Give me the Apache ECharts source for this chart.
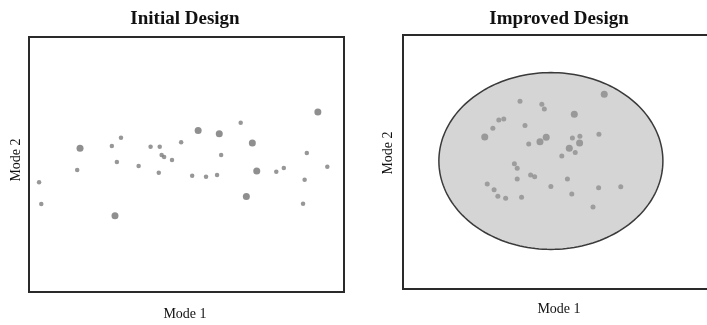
<!DOCTYPE html>
<html>
<head>
<meta charset="utf-8">
<script src="https://cdn.jsdelivr.net/npm/echarts@6/dist/echarts.min.js"></script>
<style>html,body{margin:0;padding:0;background:#fff}#c{width:707px;height:325px}</style>
</head>
<body>
<div id="c"></div>
<script>
// Panel titles and axis names
const panelTitles = ['Initial Design', 'Improved Design'];
const xAxisName = 'Mode 1';
const yAxisName = 'Mode 2';

// Initial design: [Mode 1, Mode 2]
const initialSmall = [
  [3.2,43.0],[3.9,34.5],[15.3,47.8],[26.3,57.3],[29.2,60.5],[27.9,51.0],[34.8,49.4],
  [38.6,57.0],[41.5,57.0],[42.1,53.7],[42.9,52.9],[41.2,46.8],[45.4,51.8],[48.3,58.7],
  [51.8,45.6],[56.2,45.2],[59.7,45.9],[61.0,53.7],[67.2,66.4],[78.5,47.2],[80.9,48.6],
  [87.5,44.0],[88.2,54.5],[87.0,34.6],[94.7,49.1]
];
const initialLarge = [
  [16.2,56.4],[27.3,29.9],[53.7,63.3],[60.4,62.1],[70.9,58.4],[72.3,47.5],[69.0,37.5],[91.7,70.6]
];

// Improved design: [Mode 1, Mode 2]
const improvedSmall = [
  [37.5,73.9],[44.5,72.7],[45.3,70.9],[30.7,66.5],[32.3,66.9],[28.8,63.3],[39.1,64.4],
  [40.3,57.1],[54.3,59.4],[56.7,60.1],[62.8,60.9],[55.2,53.7],[50.9,52.4],[35.7,49.3],
  [36.6,47.5],[40.9,44.9],[42.2,44.2],[36.6,43.3],[52.7,43.3],[27.0,41.3],[29.2,39.1],
  [30.4,36.5],[32.9,35.7],[38.0,36.1],[47.4,40.4],[54.1,37.4],[62.7,39.9],[69.8,40.3],
  [60.9,32.3]
];
const improvedLarge = [
  [64.5,76.7],[54.9,68.8],[26.2,59.8],[43.9,58.0],[45.9,59.7],[53.3,55.4],[56.6,57.5]
];
// Design region ellipse: [centre Mode 1, centre Mode 2, radius Mode 1, radius Mode 2]
const designRegion = [[47.4, 50.4, 35.9, 34.8]];

const chart = echarts.init(document.getElementById('c'), null, {renderer: 'canvas'});
const serif = '"Liberation Serif", "Times New Roman", serif';

function hiddenAxis(gi) {
  return {type: 'value', gridIndex: gi, min: 0, max: 100,
    axisLine: {show: false}, axisTick: {show: false}, axisLabel: {show: false}, splitLine: {show: false}};
}
function label(text, x, y, font, rot) {
  return {type: 'text', x: x, y: y, rotation: rot || 0,
    style: {text: text, font: font, fill: '#111', textAlign: 'center', textVerticalAlign: 'middle', align: 'center', verticalAlign: 'middle'}};
}

chart.setOption({
  animation: false,
  grid: [
    {left: 29, top: 37, width: 315, height: 255, show: true, borderColor: '#2a2a2a', borderWidth: 2, backgroundColor: 'transparent', outerBoundsMode: 'none', containLabel: false},
    {left: 403, top: 35, width: 312, height: 254, show: true, borderColor: '#2a2a2a', borderWidth: 2, backgroundColor: 'transparent', outerBoundsMode: 'none', containLabel: false}
  ],
  xAxis: [hiddenAxis(0), hiddenAxis(1)],
  yAxis: [hiddenAxis(0), hiddenAxis(1)],
  graphic: [
    label(panelTitles[0], 185, 19, 'bold 19px ' + serif),
    label(panelTitles[1], 559, 19, 'bold 19px ' + serif),
    label(xAxisName, 185, 314, '14px ' + serif),
    label(xAxisName, 559, 309, '14px ' + serif),
    label(yAxisName, 16, 160, '14px ' + serif, Math.PI / 2),
    label(yAxisName, 388, 153, '14px ' + serif, Math.PI / 2)
  ],
  series: [
    {
      type: 'custom', xAxisIndex: 1, yAxisIndex: 1, data: designRegion, z: 1, silent: true, clip: false,
      renderItem: function (params, api) {
        const c = api.coord([api.value(0), api.value(1)]);
        const s = api.size([api.value(2), api.value(3)]);
        const pts = [];
        for (let i = 0; i < 180; i++) {
          const t = i / 180 * Math.PI * 2;
          pts.push([c[0] + s[0] * Math.cos(t), c[1] + s[1] * Math.sin(t)]);
        }
        return {type: 'polygon', shape: {points: pts},
          style: {fill: '#d5d5d5', stroke: '#3a3a3a', lineWidth: 1.5}};
      }
    },
    {type: 'scatter', xAxisIndex: 0, yAxisIndex: 0, data: initialSmall, symbol: 'circle', symbolSize: 4.5, itemStyle: {color: '#7d7d7d'}, z: 3, silent: true},
    {type: 'scatter', xAxisIndex: 0, yAxisIndex: 0, data: initialLarge, symbol: 'circle', symbolSize: 7, itemStyle: {color: '#737373'}, z: 3, silent: true},
    {type: 'scatter', xAxisIndex: 1, yAxisIndex: 1, data: improvedSmall, symbol: 'circle', symbolSize: 5, itemStyle: {color: '#8e8e8e'}, z: 3, silent: true},
    {type: 'scatter', xAxisIndex: 1, yAxisIndex: 1, data: improvedLarge, symbol: 'circle', symbolSize: 7, itemStyle: {color: '#898989'}, z: 3, silent: true}
  ]
});
</script>
</body>
</html>
